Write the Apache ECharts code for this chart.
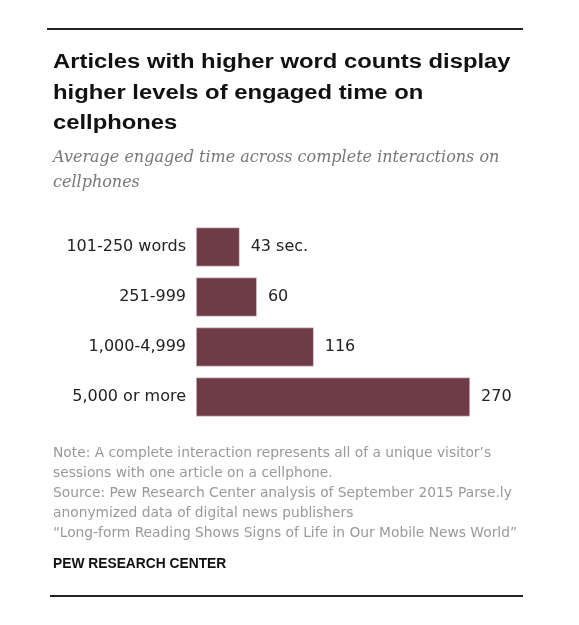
<!DOCTYPE html>
<html>
<head>
<meta charset="utf-8">
<script src="https://cdn.jsdelivr.net/npm/echarts@6/dist/echarts.min.js"></script>
<style>
  html, body { margin: 0; padding: 0; background: #fff; }
  #chart { width: 579px; height: 625px; }
</style>
</head>
<body>
<div id="chart"></div>
<script>
  // data
  const categories = ['101-250 words', '251-999', '1,000-4,999', '5,000 or more'];
  const seconds = [43, 60, 116, 270];
  const valueLabels = ['43 sec.', '60', '116', '270'];

  const titleLines = [
    'Articles with higher word counts display',
    'higher levels of engaged time on',
    'cellphones',
  ];
  const subtitleLines = [
    'Average engaged time across complete interactions on',
    'cellphones',
  ];
  const noteLines = [
    'Note: A complete interaction represents all of a unique visitor\u2019s',
    'sessions with one article on a cellphone.',
    'Source: Pew Research Center analysis of September 2015 Parse.ly',
    'anonymized data of digital news publishers',
    '\u201cLong-form Reading Shows Signs of Life in Our Mobile News World\u201d',
  ];

  const chart = echarts.init(document.getElementById('chart'));

  const graphics = [];
  // top and bottom rules
  graphics.push({ type: 'line', shape: { x1: 47, y1: 29, x2: 523, y2: 29 }, style: { stroke: '#222', lineWidth: 2 } });
  graphics.push({ type: 'line', shape: { x1: 50, y1: 596, x2: 523, y2: 596 }, style: { stroke: '#222', lineWidth: 2 } });

  // title, the original type is wider than Liberation Sans so stretch it a bit
  titleLines.forEach((t, i) => {
    graphics.push({
      type: 'text', x: 53, y: 62.5 + i * 30.5, scaleX: 1.19,
      style: { text: t, fill: '#111', font: 'bold 20px "Liberation Sans", Arial, sans-serif', verticalAlign: 'middle' },
    });
  });

  subtitleLines.forEach((t, i) => {
    graphics.push({
      type: 'text', x: 53, y: 158 + i * 24.5,
      style: { text: t, fill: '#777', font: 'italic 16px "DejaVu Serif", Georgia, serif', verticalAlign: 'middle' },
    });
  });

  noteLines.forEach((t, i) => {
    graphics.push({
      type: 'text', x: 53, y: 453.5 + i * 20,
      style: { text: t, fill: '#999', font: '13.8px "DejaVu Sans", sans-serif', verticalAlign: 'middle' },
    });
  });

  graphics.push({
    type: 'text', x: 53, y: 564.5,
    style: { text: 'PEW RESEARCH CENTER', fill: '#111', font: 'bold 13.8px "Liberation Sans", Arial, sans-serif', verticalAlign: 'middle' },
  });

  chart.setOption({
    animation: false,
    backgroundColor: '#fff',
    grid: { left: 196, top: 222, height: 200, right: 78.5, containLabel: false },
    xAxis: {
      type: 'value', min: 0, max: 300,
      show: false,
    },
    yAxis: {
      type: 'category',
      data: categories,
      inverse: true,
      axisLine: { show: false },
      axisTick: { show: false },
      axisLabel: {
        margin: 10,
        color: '#222',
        fontFamily: 'DejaVu Sans',
        fontSize: 16,
      },
    },
    series: [
      {
        type: 'bar',
        data: seconds,
        barWidth: 39,
        itemStyle: { color: '#6f3b47', borderColor: '#e9dcdf', borderWidth: 0.6 },
        label: {
          show: true,
          position: 'right',
          distance: 11,
          color: '#222',
          fontFamily: 'DejaVu Sans',
          fontSize: 16,
          formatter: (p) => valueLabels[p.dataIndex],
        },
      },
    ],
    graphic: graphics,
  });
</script>
</body>
</html>
